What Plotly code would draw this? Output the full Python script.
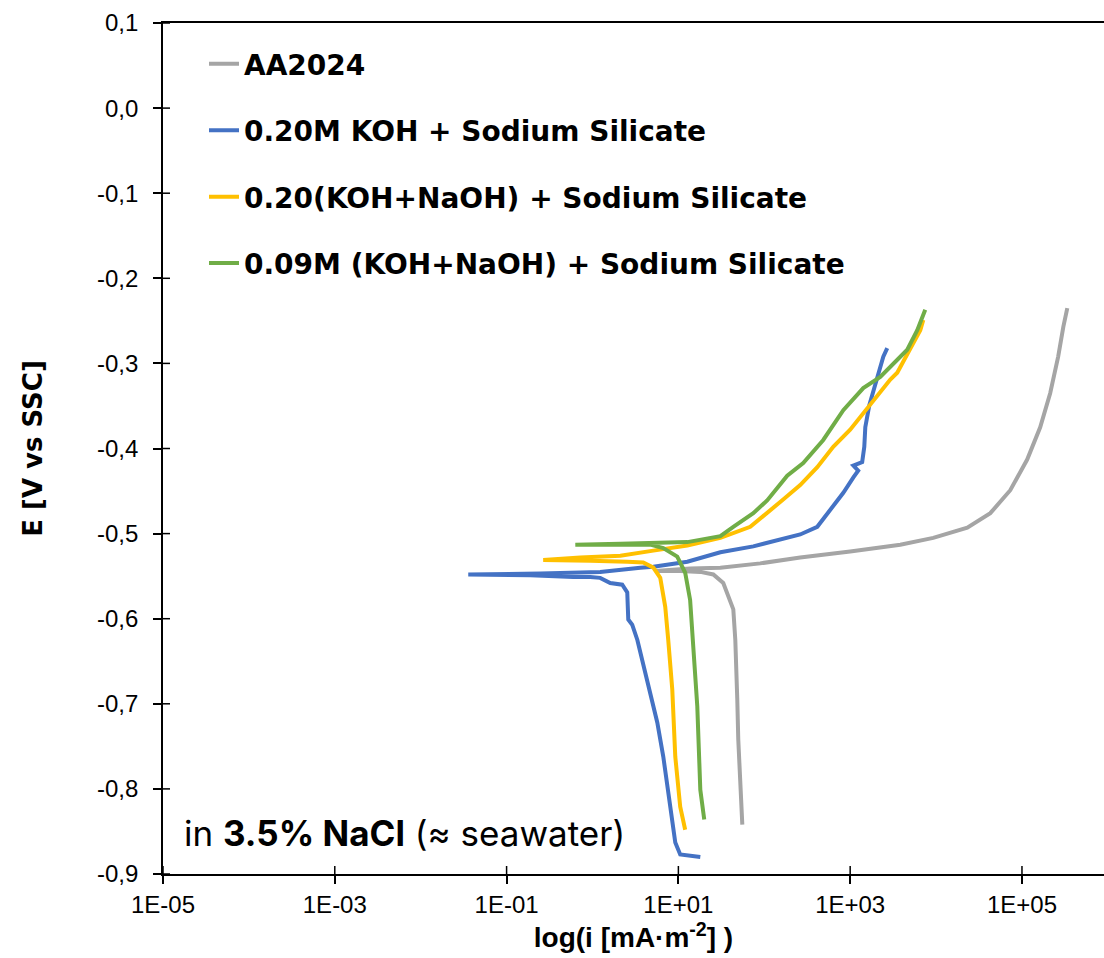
import plotly.graph_objects as go

# Potentiodynamic polarisation curves, current density in mA/m^2, potential in V vs SSC
aa2024_i = [55.5, 52.6, 49.8, 48.5, 47.2, 46.0, 43.6, 38.1, 33.3, 25.5, 18.0, 10.5, 5.38,
            13.7, 30.8, 89.7, 262, 1000, 3830, 9270, 23100, 42800, 73100, 115000,
            163000, 213000, 264000, 303000, 337000]
aa2024_E = [-0.842, -0.801, -0.742, -0.695, -0.648, -0.625, -0.589, -0.572, -0.558, -0.548,
            -0.545, -0.544, -0.544, -0.541, -0.540, -0.535, -0.528, -0.521, -0.513, -0.505,
            -0.493, -0.476, -0.449, -0.413, -0.375, -0.335, -0.292, -0.257, -0.235]

koh_i = [18.0, 10.5, 9.20, 8.05, 6.67, 5.68, 4.35, 3.33, 2.90, 2.61, 2.54, 2.22, 1.61, 1.23,
         0.942, 0.597, 0.189, 0.0358, 0.247, 1.23, 3.60, 5.11, 12.7, 30.8, 74.5, 185, 262,
         414, 635, 832, 1090, 1240, 1090, 1380, 1460, 1500, 1670, 1960, 2240, 2430, 2700]
koh_E = [-0.880, -0.877, -0.863, -0.821, -0.762, -0.722, -0.672, -0.625, -0.607, -0.601,
         -0.569, -0.560, -0.558, -0.552, -0.551, -0.551, -0.549, -0.548, -0.547, -0.545,
         -0.540, -0.539, -0.533, -0.522, -0.515, -0.505, -0.501, -0.492, -0.468, -0.452,
         -0.434, -0.426, -0.420, -0.416, -0.398, -0.375, -0.349, -0.325, -0.304, -0.292, -0.282]

mix20_i = [12.0, 10.5, 9.20, 8.49, 7.62, 7.03, 6.15, 5.11, 3.90, 2.54, 0.942, 0.267, 0.721,
           2.11, 5.11, 12.7, 30.8, 68.7, 166, 262, 414, 635, 1000, 1710, 2930, 3530, 5010,
           6550, 7100]
mix20_E = [-0.848, -0.821, -0.762, -0.683, -0.625, -0.586, -0.552, -0.540, -0.534, -0.533,
           -0.532, -0.531, -0.528, -0.526, -0.520, -0.514, -0.505, -0.492, -0.460, -0.443,
           -0.422, -0.398, -0.378, -0.349, -0.319, -0.311, -0.284, -0.261, -0.249]

mix09_i = [20.0, 18.0, 16.6, 14.9, 13.7, 12.0, 9.70, 6.67, 4.71, 2.11, 0.631, 2.11, 12.7,
           19.5, 30.8, 43.6, 52.6, 74.5, 108, 185, 284, 486, 832, 1420, 2240, 3530, 4620,
           6040, 7480]
mix09_E = [-0.836, -0.801, -0.703, -0.625, -0.578, -0.546, -0.527, -0.517, -0.513, -0.513,
           -0.513, -0.512, -0.510, -0.507, -0.503, -0.492, -0.486, -0.476, -0.461, -0.432,
           -0.417, -0.390, -0.355, -0.329, -0.316, -0.296, -0.284, -0.261, -0.237]

series_names = ["AA2024",
                "0.20M KOH + Sodium Silicate",
                "0.20(KOH+NaOH) + Sodium Silicate",
                "0.09M (KOH+NaOH) + Sodium Silicate"]
series_colors = ["#A5A5A5", "#4472C4", "#FFC000", "#70AD47"]

x_tick_vals = [1e-5, 1e-3, 1e-1, 1e1, 1e3, 1e5]
x_tick_text = ["1E-05", "1E-03", "1E-01", "1E+01", "1E+03", "1E+05"]
y_tick_vals = [0.1, 0.0, -0.1, -0.2, -0.3, -0.4, -0.5, -0.6, -0.7, -0.8, -0.9]
y_tick_text = ["0,1", "0,0", "-0,1", "-0,2", "-0,3", "-0,4", "-0,5", "-0,6", "-0,7", "-0,8", "-0,9"]

fig = go.Figure()
for k, (xi, ye) in enumerate([(aa2024_i, aa2024_E), (koh_i, koh_E),
                              (mix20_i, mix20_E), (mix09_i, mix09_E)]):
    fig.add_trace(go.Scatter(
        x=xi, y=ye, mode="lines", name=series_names[k],
        legendgroup=f"g{k}",
        line=dict(color=series_colors[k], width=4),
    ))

axis_font = dict(family="Liberation Sans, Arial, sans-serif", size=24, color="#000000")

# inward half of the crossing tick marks
shapes = []
for v in x_tick_vals:
    shapes.append(dict(type="line", xref="x", yref="paper", x0=v, x1=v, y0=0, y1=8 / 851,
                       line=dict(color="#000000", width=1.5)))
for v in y_tick_vals:
    shapes.append(dict(type="line", xref="paper", yref="y", x0=0, x1=7 / 941, y0=v, y1=v,
                       line=dict(color="#000000", width=1.5)))

fig.update_layout(
    width=1104, height=958,
    margin=dict(l=163, r=0, t=23, b=84),
    paper_bgcolor="white", plot_bgcolor="white",
    showlegend=True,
    legend=dict(
        x=(204 - 163) / 941, xanchor="left",
        y=0.981, yanchor="top",
        bgcolor="rgba(0,0,0,0)",
        font=dict(family="DejaVu Sans, sans-serif", size=28, color="#000000", weight="bold"),
        tracegroupgap=27,
        itemwidth=30,
    ),
    xaxis=dict(
        type="log", range=[-5, 5.955],
        tickmode="array", tickvals=x_tick_vals, ticktext=x_tick_text,
        ticks="outside", ticklen=8, tickwidth=1.5, tickcolor="#000000",
        showline=True, linewidth=1.8, linecolor="#000000", mirror=True,
        showgrid=False, zeroline=False,
        tickfont=axis_font,
        title=dict(text="<b>log(i [mA·m<sup>-2</sup>] )</b>",
                   font=dict(family="Liberation Sans, Arial, sans-serif", size=28, color="#000000"),
                   standoff=11),
    ),
    yaxis=dict(
        range=[-0.9, 0.1],
        tickmode="array", tickvals=y_tick_vals, ticktext=y_tick_text,
        ticks="outside", ticklen=8, tickwidth=1.5, tickcolor="#000000",
        showline=True, linewidth=1.8, linecolor="#000000",
        showgrid=False, zeroline=False,
        tickfont=axis_font,
        ticklabelstandoff=10,
        title=dict(text="<b>E [V vs SSC]</b>",
                   font=dict(family="DejaVu Sans, sans-serif", size=26, color="#000000"),
                   standoff=47),
    ),
    shapes=shapes,
    annotations=[dict(
        text="in <b>3.5% NaCl</b> (≈ seawater)",
        xref="paper", yref="paper", x=(182 - 163) / 941, y=(874 - 833) / 851,
        xanchor="left", yanchor="middle", showarrow=False,
        font=dict(family="Inter, sans-serif", size=35, color="#000000"),
    )],
)

fig.write_html("out.html")
